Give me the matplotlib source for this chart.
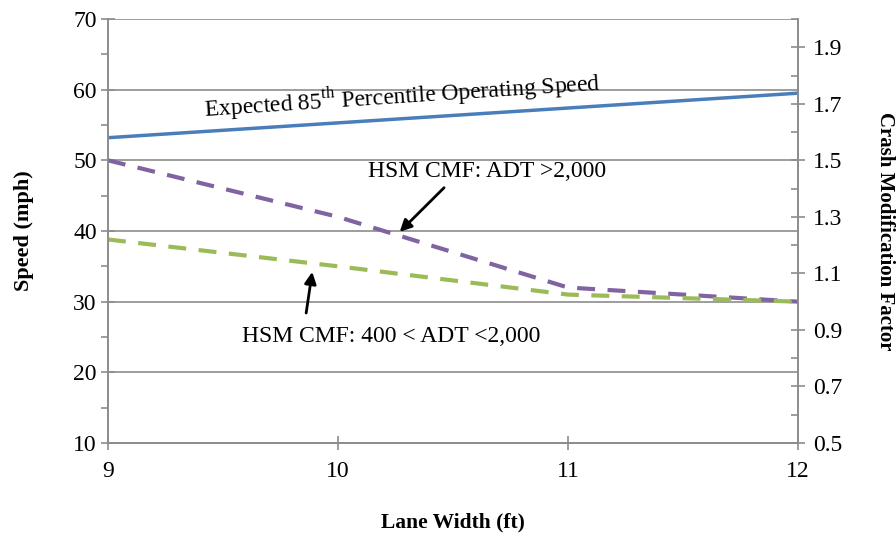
import numpy as np
import matplotlib
matplotlib.use("Agg")
import matplotlib.pyplot as plt
from matplotlib.ticker import MultipleLocator

plt.rcParams['font.family'] = 'Liberation Serif'
plt.rcParams['mathtext.fontset'] = 'custom'
plt.rcParams['mathtext.rm'] = 'Liberation Serif'

# data
lane_width = [9, 10, 11, 12]
speed_85 = [53.2, 55.3, 57.4, 59.5]          # mph, left axis
cmf_high = [1.50, 1.30, 1.05, 1.00]          # ADT > 2,000
cmf_mid = [1.22, 1.125, 1.025, 1.00]         # 400 < ADT < 2,000

grey = '#8c8c8c'

fig = plt.figure(figsize=(8.96, 5.35), dpi=100)
ax = fig.add_axes([0.1205, 0.172, 0.770, 0.7925])
ax2 = ax.twinx()

ax.plot(lane_width, speed_85, color='#4a7ebb', lw=2.5, solid_capstyle='butt')
ax2.plot(lane_width, cmf_high, color='#8064a2', lw=3, dashes=(4.3, 3))
ax2.plot(lane_width, cmf_mid, color='#9bbb59', lw=3, dashes=(4.3, 3))

ax.set_xlim(9, 12)
ax.set_ylim(10, 70)
ax2.set_ylim(0.5, 2.0)

ax.set_xticks([9, 10, 11, 12])
ax.yaxis.set_major_locator(MultipleLocator(10))
ax.yaxis.set_minor_locator(MultipleLocator(5))
ax2.set_yticks(np.arange(0.5, 2.0, 0.2))
ax2.yaxis.set_minor_locator(MultipleLocator(0.1))
ax2.set_yticklabels(['%.1f' % v for v in np.arange(0.5, 2.0, 0.2)])

ax.grid(axis='y', color=grey, lw=1.2)
ax.set_axisbelow(True)

for a in (ax, ax2):
    for s in a.spines.values():
        s.set_color(grey)
        s.set_linewidth(1.2)
    a.spines['top'].set_visible(False)

ax.tick_params(axis='both', which='major', direction='inout', length=10, width=1.2,
               color=grey, labelsize=17, pad=3)
ax.tick_params(axis='y', which='minor', direction='out', length=5, width=1.2, color=grey)
ax.tick_params(axis='x', which='major', pad=8)
ax2.tick_params(axis='y', which='major', direction='inout', length=10, width=1.2,
                color=grey, labelsize=17, pad=6)
ax2.tick_params(axis='y', which='minor', direction='in', length=5, width=1.2, color=grey)

ax.set_ylabel('Speed (mph)', fontsize=16, fontweight='bold', labelpad=28)
ax.set_xlabel('Lane Width (ft)', fontsize=15.5, fontweight='bold', labelpad=22)
ax2.set_ylabel('Crash Modification Factor', fontsize=15, fontweight='bold',
               rotation=270, labelpad=38)

ax.text(10.28, 59.1, r'Expected 85$^{\mathrm{th}}$ Percentile Operating Speed',
        fontsize=17, rotation=3.8, ha='center', va='center')
ax.text(10.65, 48.4, 'HSM CMF: ADT >2,000', fontsize=17, ha='center', va='center')
ax.text(10.23, 25.0, 'HSM CMF: 400 < ADT <2,000', fontsize=17, ha='center', va='center')

arrow = dict(arrowstyle='-|>,head_length=0.7,head_width=0.35', color='black', lw=2)
ax.annotate('', xy=(10.26, 39.6), xytext=(10.47, 46.4), arrowprops=arrow)
ax.annotate('', xy=(9.89, 34.6), xytext=(9.86, 28.0), arrowprops=arrow)

fig.savefig('out.png', dpi=100)
